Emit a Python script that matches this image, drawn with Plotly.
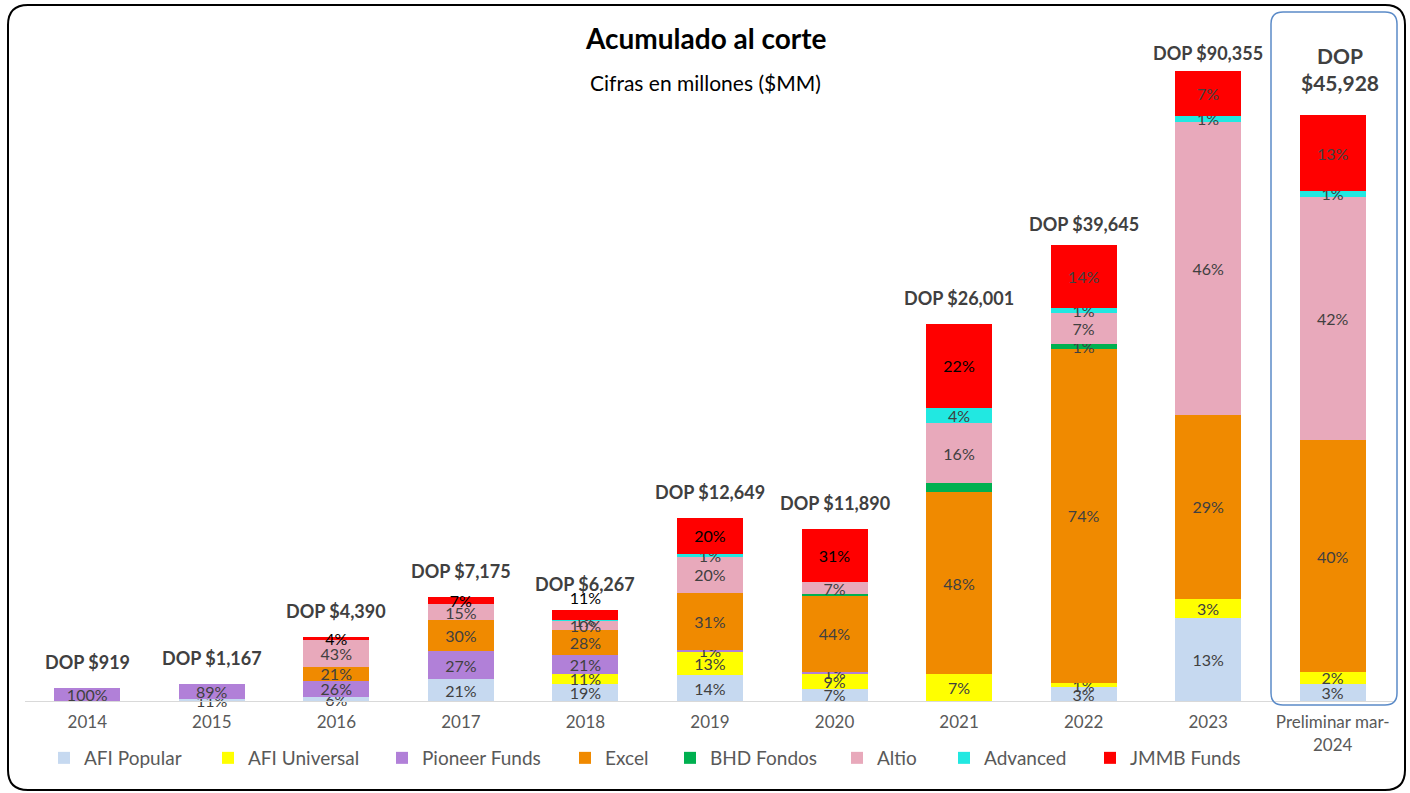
import plotly.graph_objects as go

# ---------------- data ----------------
categories = ["2014", "2015", "2016", "2017", "2018", "2019", "2020", "2021", "2022", "2023",
              "Preliminar mar-<br>2024"]
totals_mm = [919, 1167, 4390, 7175, 6267, 12649, 11890, 26001, 39645, 90355, 45928]
# height at which each bar is drawn on the (hidden) value axis
bar_heights = [919, 1167, 4390, 7175, 6267, 12649, 11890, 26001, 31450, 43450, 40400]

series_names = ["AFI Popular", "AFI Universal", "Pioneer Funds", "Excel",
                "BHD Fondos", "Altio", "Advanced", "JMMB Funds"]
afi_popular   = [0, 11, 6, 21, 19, 14, 7, 0, 3, 13, 3]
afi_universal = [0, 0, 0, 0, 11, 13, 9, 7, 1, 3, 2]
pioneer_funds = [100, 89, 26, 27, 21, 1, 1, 0, 0, 0, 0]
excel         = [0, 0, 21, 30, 28, 31, 44, 48, 74, 29, 40]
bhd_fondos    = [0, 0, 0, 0, 0, 0, 0.5, 2.4, 1, 0, 0]
altio         = [0, 0, 43, 15, 10, 20, 7, 16, 7, 46, 42]
advanced      = [0, 0, 0, 0, 1, 1, 0, 4, 1, 1, 1]
jmmb_funds    = [0, 0, 4, 7, 11, 20, 31, 22, 14, 7, 13]

shares = [afi_popular, afi_universal, pioneer_funds, excel, bhd_fondos, altio, advanced, jmmb_funds]
colors = ["#C6D9F0", "#FFFF00", "#B180D8", "#F08A00", "#00B050", "#E8A9BB", "#21E8E1", "#FF0000"]

# labels not shown on the original
hidden_labels = {("BHD Fondos", 6), ("BHD Fondos", 7)}

# ---------------- geometry helpers (pixel -> paper) ----------------
W, H = 1410, 793
L, R, T, B = 25, 15, 40, 92
PW, PH = W - L - R, H - T - B
YMAX = 45600
LEGEND_MARKER_X = [62, 226, 400, 583, 688, 855, 962, 1108]  # layout positions of legend entries


def px(x):
    return (x - L) / PW


def py(y):
    return (H - B - y) / PH


def rounded_rect(x0, y0, x1, y1, r):
    rx, ry = r / PW, r / PH
    X0, X1 = px(x0), px(x1)
    Y0, Y1 = py(y0), py(y1)  # Y0 top, Y1 bottom (paper)
    return (f"M {X0 + rx},{Y0} L {X1 - rx},{Y0} Q {X1},{Y0} {X1},{Y0 - ry} "
            f"L {X1},{Y1 + ry} Q {X1},{Y1} {X1 - rx},{Y1} "
            f"L {X0 + rx},{Y1} Q {X0},{Y1} {X0},{Y1 + ry} "
            f"L {X0},{Y0 - ry} Q {X0},{Y0} {X0 + rx},{Y0} Z")


FONT = "Lato, Carlito, Calibri, sans-serif"

fig = go.Figure()
sum_shares = [sum(s[i] for s in shares) for i in range(len(categories))]

for k, (name, vals, col) in enumerate(zip(series_names, shares, colors)):
    ys = [v / sum_shares[i] * bar_heights[i] for i, v in enumerate(vals)]
    texts, tcolors, tpos = [], [], []
    for i, v in enumerate(vals):
        if v <= 0 or (name, i) in hidden_labels:
            texts.append("")
        else:
            texts.append(f"{v:.0f}%")
        if name == "JMMB Funds" and 2 <= i <= 7:
            tcolors.append("#000000")
        else:
            tcolors.append("#404040")
        tpos.append("outside" if (name == "JMMB Funds" and i == 4) else "inside")
    fig.add_trace(go.Bar(
        x=list(range(len(categories))), y=ys, name=name,
        legend="legend" if k == 0 else f"legend{k + 1}",
        marker=dict(color=col, line=dict(width=0)),
        text=texts, textposition=tpos, insidetextanchor="middle",
        constraintext="none", cliponaxis=False,
        textfont=dict(family=FONT, size=16, color=tcolors),
        hoverinfo="skip",
    ))

# total labels
shifts = [13, 13, 13, 13, 13, 13, 13, 13, 8, 5]
for i, tot in enumerate(totals_mm):
    if i < len(categories) - 1:
        fig.add_annotation(x=i, y=bar_heights[i], xref="x", yref="y",
                           text=f"<b>DOP ${tot:,}</b>", showarrow=False,
                           yanchor="bottom", yshift=shifts[i],
                           font=dict(family=FONT, size=18, color="#404040"))
    else:
        fig.add_annotation(x=i + 0.06, y=bar_heights[i], xref="x", yref="y",
                           text=f"<b>DOP<br>${tot:,}</b>", showarrow=False,
                           yanchor="bottom", yshift=18,
                           font=dict(family=FONT, size=21, color="#404040"))

# title / subtitle
fig.add_annotation(x=px(706), y=py(38), xref="paper", yref="paper",
                   text="<b>Acumulado al corte</b>", showarrow=False,
                   xanchor="center", yanchor="middle",
                   font=dict(family=FONT, size=28, color="#000000"))
fig.add_annotation(x=px(705), y=py(83), xref="paper", yref="paper",
                   text="Cifras en millones ($MM)", showarrow=False,
                   xanchor="center", yanchor="middle",
                   font=dict(family=FONT, size=21, color="#000000"))

# frames
fig.add_shape(type="path", xref="paper", yref="paper",
              path=rounded_rect(8, 5, 1405, 790, 20),
              line=dict(color="#000000", width=2), layer="above")
fig.add_shape(type="path", xref="paper", yref="paper",
              path=rounded_rect(1271, 12, 1397, 705, 12),
              line=dict(color="#5B8BC8", width=1.5), layer="above")

legend_style = dict(orientation="h", xanchor="left", yanchor="middle", y=py(758),
                    font=dict(family=FONT, size=19, color="#595959"),
                    itemwidth=30, bgcolor="rgba(0,0,0,0)")
legends = {}
for k, mx in enumerate(LEGEND_MARKER_X):
    key = "legend" if k == 0 else f"legend{k + 1}"
    legends[key] = dict(legend_style, x=px(mx - 18))

fig.update_layout(
    width=W, height=H,
    margin=dict(l=L, r=R, t=T, b=B),
    barmode="stack", bargap=0.47,
    paper_bgcolor="white", plot_bgcolor="white",
    font=dict(family=FONT, color="#595959"),
    uniformtext=dict(minsize=16, mode="show"),
    showlegend=True,
    xaxis=dict(tickmode="array", tickvals=list(range(len(categories))), ticktext=categories,
               range=[-0.5, len(categories) - 0.5],
               showline=True, linecolor="#D9D9D9", linewidth=1, ticks="",
               ticklabelstandoff=6,
               showgrid=False, zeroline=False,
               tickfont=dict(family=FONT, size=17, color="#595959")),
    yaxis=dict(range=[0, YMAX], visible=False, showgrid=False, zeroline=False),
    **legends,
)

fig.write_html("out.html", config={"displayModeBar": False},
               post_script="document.body.style.margin='0px';")
